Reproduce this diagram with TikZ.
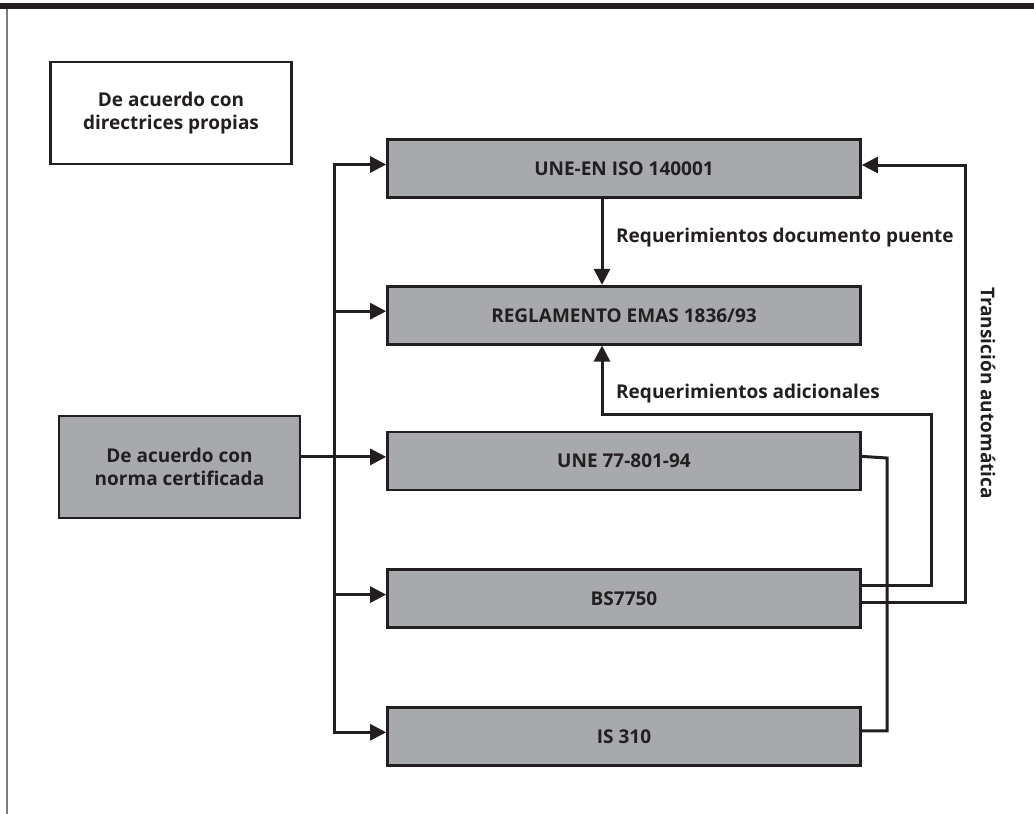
\documentclass[tikz,border=0pt]{standalone}
\usepackage{fontspec}
\setmainfont{Open Sans}
\usetikzlibrary{arrows.meta, positioning}
\definecolor{ink}{HTML}{231F20}
\definecolor{boxgray}{HTML}{A7A9AC}

\begin{document}
\begin{tikzpicture}[
  x=1pt, y=-1pt,
  font=\bfseries\fontsize{19}{23}\selectfont,
  box/.style={draw=ink, line width=2.7pt, fill=boxgray, text=ink, align=center, minimum width=473pt, minimum height=58pt, inner sep=0pt},
  sidebox/.style={box, minimum width=241pt, minimum height=102pt},
  lbl/.style={text=ink, inner sep=0pt},
  line/.style={draw=ink, line width=3pt},
  arrow/.style={line, -{Triangle[length=16pt, width=16pt]}}
]
\useasboundingbox (0,0) rectangle (1034,814);

% frame
\fill[ink] (0,3) rectangle (1034,9);
\draw[ink!60, line width=1.3pt] (7,9) -- (7,814);

% left boxes
\node[sidebox, fill=white] (own) at (171,113) {De acuerdo con\\directrices propias};
\node[sidebox] (cert) at (179.5,467) {De acuerdo con\\norma certificada};

% standards column
\node[box] (iso) at (624,168.5) {UNE-EN ISO 140001};
\node[box, below=86pt of iso] (emas) {REGLAMENTO EMAS 1836/93};
\node[box, below=85pt of emas] (une) {UNE 77-801-94};
\node[box, below=77pt of une] (bs) {BS7750};
\node[box, below=77pt of bs] (is) {IS 310};

% labels
\node[lbl, anchor=base west] (puente) at (616,242) {Requerimientos documento puente};
\node[lbl, anchor=base west] (adic) at (616,398) {Requerimientos adicionales};
\node[lbl, rotate=-90] (trans) at (988,393) {Transición automática};

% connectors
\coordinate (trunk) at (334,0);
\coordinate (add) at (931,414);
\coordinate (auto) at (965,165);
\coordinate (brk) at (887,458);
\foreach \n in {iso,emas,une,bs,is}
  \coordinate (\n-in) at ([yshift=4pt]\n.west);

\draw[line, line cap=rect] (trunk |- iso-in) -- (trunk |- is-in);
\foreach \n in {iso,emas,bs,is}
  \draw[arrow] (trunk |- \n-in) -- (\n-in);
\draw[arrow] (cert.east |- une-in) -- (une-in);

\draw[arrow] ([xshift=-22pt]iso.south) -- ([xshift=-22pt]emas.north);
\draw[arrow] ([yshift=13.5pt]bs.east) -| (add) -| ([xshift=-22pt]emas.south);
\draw[arrow] ([yshift=-3.5pt]bs.east) -| (auto) -- (auto -| iso.east);
\draw[line] ([yshift=4.5pt]une.east) -- (brk) |- ([yshift=5.5pt]is.east);

\end{tikzpicture}
\end{document}
